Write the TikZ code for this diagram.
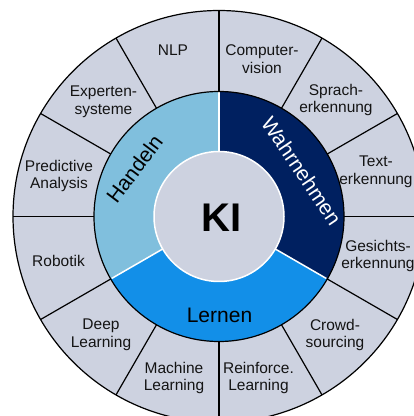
\documentclass[tikz,border=0pt]{standalone}
\usepackage{fontspec}
\setmainfont{Liberation Sans}
\usetikzlibrary{calc}
\definecolor{ringgray}{RGB}{205,210,224}
\definecolor{handelnblue}{RGB}{128,191,221}
\definecolor{wahrnavy}{RGB}{0,32,96}
\definecolor{lernenblue}{RGB}{18,143,232}
\definecolor{labeltext}{RGB}{20,20,20}
\tikzset{
  segline/.style={draw=black, line width=1.2pt},
  sepline/.style={draw=white, line width=1.5pt},
  outerlbl/.style={font=\fontsize{15.5}{17.5}\selectfont, align=center,
    text=labeltext, inner sep=0pt},
  ringlbl/.style={font=\fontsize{21}{21}\selectfont, inner sep=0pt},
  kilbl/.style={font=\bfseries\fontsize{40}{40}\selectfont, text=black,
    inner sep=0pt, anchor=base}
}
\begin{document}
\begin{tikzpicture}[x=1pt,y=1pt]
\useasboundingbox (0,0) rectangle (414,416);
\clip (0,0) rectangle (414,416);
\coordinate (C) at (219,199.5);

% outer ring with twelve sectors
\fill[ringgray] (C) circle[radius=206];
\foreach \a in {0,30,...,330}
  \draw[segline] ($(C)+(\a:124)$) -- ($(C)+(\a:206)$);
\draw[segline] (C) circle[radius=206];

% middle ring: Handeln, Wahrnehmen, Lernen
\fill[handelnblue] ($(C)+(90:125)$) arc[start angle=90, end angle=210, radius=125]
  -- ($(C)+(210:65)$) arc[start angle=210, end angle=90, radius=65] -- cycle;
\fill[wahrnavy] ($(C)+(-30:125)$) arc[start angle=-30, end angle=90, radius=125]
  -- ($(C)+(90:65)$) arc[start angle=90, end angle=-30, radius=65] -- cycle;
\fill[lernenblue] ($(C)+(210:125)$) arc[start angle=210, end angle=330, radius=125]
  -- ($(C)+(330:65)$) arc[start angle=330, end angle=210, radius=65] -- cycle;
\foreach \a in {90,210,330}
  \draw[sepline] ($(C)+(\a:64)$) -- ($(C)+(\a:124)$);
\draw[segline] (C) circle[radius=125];

% centre disk
\filldraw[fill=ringgray, draw=white, line width=1.5pt] (C) circle[radius=65];
\node[kilbl] (ki) at (221.5,184) {KI};

% ring labels
\node[ringlbl, text=black, rotate=53] (handeln) at (134.4,247.2) {Handeln};
\node[ringlbl, text=white, rotate=-56] (wahrnehmen) at (301.7,245.1) {Wahrnehmen};
\node[ringlbl, text=black, anchor=base] (lernen) at (219.5,93) {Lernen};

% outer labels
\node[outerlbl] (nlp) at (173,365.5) {NLP};
\node[outerlbl] (cv) at (262,357) {Computer-\\vision};
\node[outerlbl] (sprach) at (336,316) {Sprach-\\erkennung};
\node[outerlbl] (textrec) at (376,244) {Text-\\erkennung};
\node[outerlbl] (gesicht) at (378,160) {Gesichts-\\erkennung};
\node[outerlbl] (crowd) at (335,81) {Crowd-\\sourcing};
\node[outerlbl] (reinf) at (258.5,38) {Reinforce.\\Learning};
\node[outerlbl] (machine) at (174,38) {Machine\\Learning};
\node[outerlbl] (deep) at (101,81) {Deep\\Learning};
\node[outerlbl] (robotik) at (58.5,155.5) {Robotik};
\node[outerlbl] (predictive) at (59,240) {Predictive\\Analysis};
\node[outerlbl] (experten) at (103.5,314) {Experten-\\systeme};
\end{tikzpicture}
\end{document}
